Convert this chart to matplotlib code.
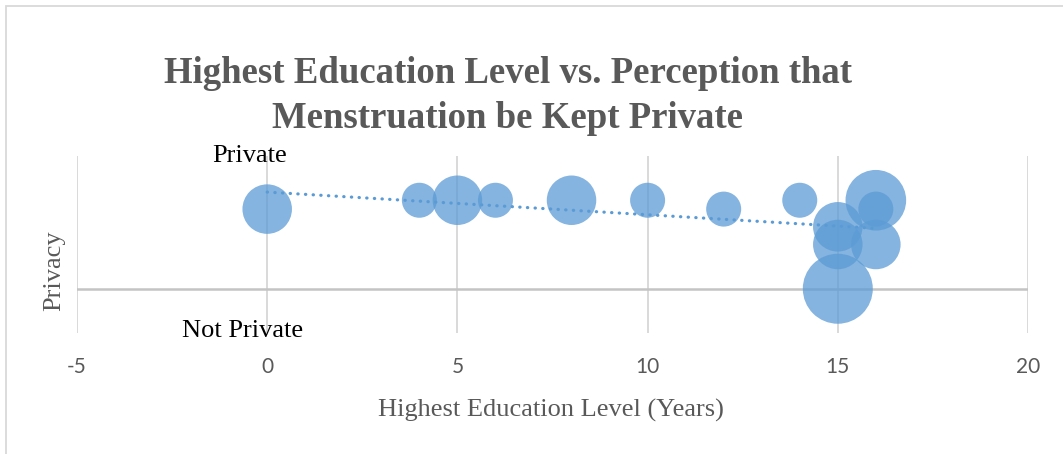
import numpy as np
import matplotlib
matplotlib.use("Agg")
import matplotlib.pyplot as plt
from matplotlib.patches import Rectangle

plt.rcParams["axes.unicode_minus"] = False

# bubble data
education_years = [0, 4, 5, 6, 8, 10, 12, 14, 15, 15, 15, 16, 16, 16]
privacy_score = [0.9, 1.0, 1.0, 1.0, 1.0, 1.0, 0.9, 1.0, 0.7, 0.5, 0.0, 1.0, 0.9, 0.5]
bubble_size = [2, 1, 2, 1, 2, 1, 1, 1, 2, 2, 4, 3, 1, 2]
x_ticks = [-5, 0, 5, 10, 15, 20]

title_lines = ["Highest Education Level vs. Perception that",
               "Menstruation be Kept Private"]
x_label = "Highest Education Level (Years)"
y_label = "Privacy"

W, H = 1063, 454
blue = "#5B9BD5"
grey_text = "#595959"

fig = plt.figure(figsize=(W / 100, H / 100), dpi=100)

# chart frame (only left and top edges are inside the picture)
fig.add_artist(Rectangle((6 / W, -0.1), 1.2, 1.1 - 6 / H, transform=fig.transFigure,
                         fill=False, edgecolor="#d9d9d9", lw=1.3))

ax = fig.add_axes([77 / W, 1 - 333 / H, (1028 - 77) / W, (333 - 156) / H])
ax.set_xlim(-5, 20)
ax.set_ylim(-0.5, 1.5)
ax.set_xticks(x_ticks)
ax.set_yticks([])
for s in ax.spines.values():
    s.set_visible(False)
ax.grid(axis="x", color="#d9d9d9", lw=1.4)
ax.axhline(0, color="#c4c4c4", lw=1.8, zorder=1)
ax.set_axisbelow(True)
ax.tick_params(axis="x", length=0, pad=17, labelsize=15, labelcolor=grey_text)
for lab in ax.get_xticklabels():
    lab.set_family("Lato")

x = np.array(education_years, dtype=float)
y = np.array(privacy_score)
sizes = np.array(bubble_size) * 635.0
ax.scatter(x, y, s=sizes, color=blue, alpha=0.75, edgecolors="none", zorder=2)

# linear trendline across the data range
slope, icpt = np.polyfit(x, y, 1)
tx = np.array([x.min(), x.max()])
ax.plot(tx, slope * tx + icpt, color=blue, lw=2.3, linestyle=(0, (0.1, 2.3)),
        dash_capstyle="round", zorder=3)

serif = "Liberation Serif"
fig.text(508 / W, 1 - 83 / H, title_lines[0], ha="center", va="baseline",
         family=serif, fontweight="bold", fontsize=26.5, color=grey_text)
fig.text(508 / W, 1 - 128 / H, title_lines[1], ha="center", va="baseline",
         family=serif, fontweight="bold", fontsize=26.5, color=grey_text)

fig.text(551 / W, 1 - 417 / H, x_label, ha="center", va="baseline",
         family=serif, fontsize=19, color=grey_text)
fig.text(54 / W, 1 - 271 / H, y_label, ha="center", va="center", rotation=90,
         family=serif, fontsize=19, color=grey_text)

fig.text(212 / W, 1 - 162 / H, "Private", ha="left", va="baseline",
         family=serif, fontsize=19, color="black")
fig.text(182 / W, 1 - 337 / H, "Not Private", ha="left", va="baseline",
         family=serif, fontsize=19, color="black")

fig.savefig("out.png", dpi=100)
